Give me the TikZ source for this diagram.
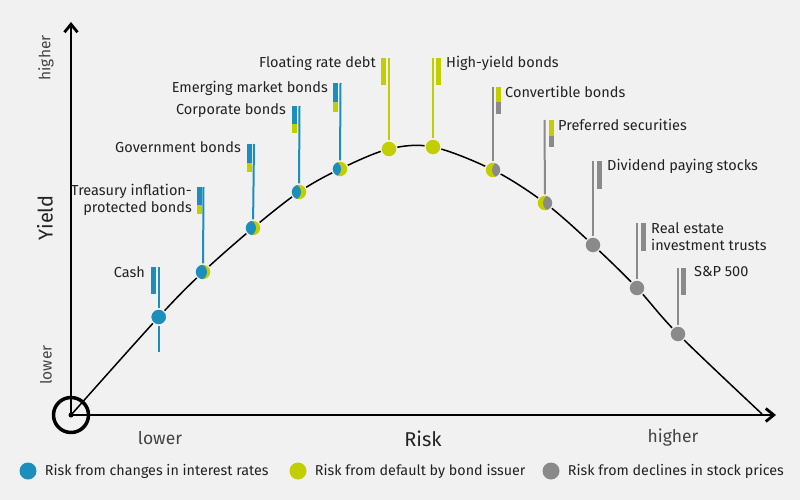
\documentclass[tikz,border=0pt]{standalone}
\usepackage{fontspec}
\setmainfont{Fira Sans}
\usetikzlibrary{arrows.meta}
\definecolor{rateblue}{HTML}{1B8EBC}
\definecolor{defgreen}{HTML}{C3CE00}
\definecolor{stockgray}{HTML}{8A8A8A}
\definecolor{bgcol}{HTML}{F1F1F1}
\definecolor{txt}{HTML}{222222}
\definecolor{axtxt}{HTML}{444444}
\begin{document}
\begin{tikzpicture}[x=1pt, y=-1pt, font=\fontsize{14.5}{17}\selectfont, text=txt,
		line join=round, >={Straight Barb[length=8pt,width=13pt]},
		dot/.style={circle, minimum size=16pt, inner sep=0pt, draw=bgcol, line width=1.2pt},
		mix/.style n args={3}{dot, fill=#1,
			path picture={\fill[#2] ([xshift=#3]path picture bounding box.center) circle (8pt);}},
		stem/.style={line width=2pt},
		bar/.style={line width=5pt},
		lbl/.style={inner sep=0pt},
		axis/.style={line width=2.8pt}]
	\fill[bgcol] (0,0) rectangle (800,500);
	\useasboundingbox (0,0) rectangle (800,500);
	% axes
	\node[circle, draw, line width=3.5pt, minimum size=35pt] (origin) at (71,415) {};
	\fill (origin.center) circle (2.5pt);
	\coordinate (ytip) at (71,22);
	\coordinate (xtip) at (776,415);
	\draw[axis,->] (origin.center) -- (ytip);
	\draw[axis,->] (origin.center) -- (xtip);
	\node[rotate=90, text=axtxt, font=\fontsize{15.5}{16}\selectfont] (yhigh) at (46,58) {higher};
	\node[rotate=90, font=\fontsize{20}{20}\selectfont] (ylab) at (45,218) {Yield};
	\node[rotate=90, text=axtxt, font=\fontsize{15.5}{16}\selectfont] (ylow) at (46,365) {lower};
	\node[text=axtxt, font=\fontsize{17.5}{18}\selectfont] (xlow) at (160,438) {lower};
	\node[font=\fontsize{20}{20}\selectfont] (xlab) at (423,439) {Risk};
	\node[text=axtxt, font=\fontsize{17.5}{18}\selectfont] (xhigh) at (673,438) {higher};
	% curve
	\draw[line width=1.5pt] plot[smooth, tension=.55] coordinates {(71,415) (158.7,317) (203,272)
		(253,228) (299,192) (340,169) (389,149) (433,147) (493,170) (545,203) (593,245) (637,288)
		(678,334) (762,414)};
	% points on the curve
	\node[dot, fill=rateblue] (cash) at (158.7,317) {};
	\node[mix={defgreen}{rateblue}{-4pt}] (tips) at (203,272) {};
	\node[mix={defgreen}{rateblue}{-5pt}] (gov) at (253,228) {};
	\node[mix={defgreen}{rateblue}{-6pt}] (corp) at (299,192) {};
	\node[mix={defgreen}{rateblue}{-7pt}] (emerg) at (340,169) {};
	\node[dot, fill=defgreen] (float) at (389,149) {};
	\node[dot, fill=defgreen] (hiyld) at (433,147) {};
	\node[mix={defgreen}{stockgray}{7pt}] (conv) at (493,170) {};
	\node[mix={defgreen}{stockgray}{6pt}] (pref) at (545,203) {};
	\node[dot, fill=stockgray] (divid) at (593,245) {};
	\node[dot, fill=stockgray] (reit) at (637,288) {};
	\node[dot, fill=stockgray] (snp) at (678,334) {};
	% stems
	\coordinate (cash top) at (158.7,267);
	\coordinate (cash bot) at (158.7,352);
	\draw[stem, rateblue] (cash top) -- (cash) (cash) -- (cash bot);
	\coordinate (tips top) at (203.5,187);
	\draw[stem, rateblue] (tips top) -- (tips);
	\coordinate (gov top) at (254,144);
	\draw[stem, rateblue] (gov top) -- (gov);
	\coordinate (corp top) at (299.5,106);
	\draw[stem, rateblue] (corp top) -- (corp);
	\coordinate (emerg top) at (340.5,83);
	\draw[stem, rateblue] (emerg top) -- (emerg);
	\coordinate (float top) at (389,58);
	\draw[stem, defgreen] (float top) -- (float);
	\coordinate (hiyld top) at (433,58);
	\draw[stem, defgreen] (hiyld top) -- (hiyld);
	\coordinate (conv top) at (493,87);
	\draw[stem, stockgray] (conv top) -- (conv);
	\coordinate (pref top) at (544.5,120);
	\draw[stem, stockgray] (pref top) -- (pref);
	\coordinate (divid top) at (593,161);
	\draw[stem, stockgray] (divid top) -- (divid);
	\coordinate (reit top) at (637,223);
	\draw[stem, stockgray] (reit top) -- (reit);
	\coordinate (snp top) at (678,268);
	\draw[stem, stockgray] (snp top) -- (snp);
	% bars
	\draw[bar, rateblue] (153,267) -- (153,294);
	\draw[bar, rateblue] (199,187) -- (199,205);
	\draw[bar, defgreen] (199,205) -- (199,214);
	\draw[bar, rateblue] (249.5,144) -- (249.5,163);
	\draw[bar, defgreen] (249.5,163) -- (249.5,172);
	\draw[bar, rateblue] (294.5,106) -- (294.5,124);
	\draw[bar, defgreen] (294.5,124) -- (294.5,133);
	\draw[bar, rateblue] (335.5,83) -- (335.5,102);
	\draw[bar, defgreen] (335.5,102) -- (335.5,112);
	\draw[bar, defgreen] (383.5,58) -- (383.5,85);
	\draw[bar, defgreen] (438.5,58) -- (438.5,85);
	\draw[bar, defgreen] (498.5,87) -- (498.5,102);
	\draw[bar, stockgray] (498.5,102) -- (498.5,114);
	\draw[bar, defgreen] (551,120) -- (551,136);
	\draw[bar, stockgray] (551,136) -- (551,147);
	\draw[bar, stockgray] (599.5,161) -- (599.5,189);
	\draw[bar, stockgray] (643.5,223) -- (643.5,251);
	\draw[bar, stockgray] (683.5,268) -- (683.5,295);
	% labels
	\node[lbl, anchor=east] (cash lbl) at (145,272) {Cash};
	\node[lbl, anchor=east, align=right] (tips lbl) at (192,200) {Treasury inflation-\\protected bonds};
	\node[lbl, anchor=east] (gov lbl) at (241,147) {Government bonds};
	\node[lbl, anchor=east] (corp lbl) at (286,111) {Corporate bonds};
	\node[lbl, anchor=east] (emerg lbl) at (328,88) {Emerging market bonds};
	\node[lbl, anchor=east] (float lbl) at (376,63) {Floating rate debt};
	\node[lbl, anchor=west] (hiyld lbl) at (446,63) {High-yield bonds};
	\node[lbl, anchor=west] (conv lbl) at (505,92) {Convertible bonds};
	\node[lbl, anchor=west] (pref lbl) at (558,125) {Preferred securities};
	\node[lbl, anchor=west] (divid lbl) at (607,166) {Dividend paying stocks};
	\node[lbl, anchor=west, align=left] (reit lbl) at (651,237) {Real estate\\investment trusts};
	\node[lbl, anchor=west] (snp lbl) at (694,272) {S\&P 500};
	% legend
	\foreach \c/\x/\t [count=\i] in {rateblue/28/Risk from changes in interest rates,
		defgreen/298/Risk from default by bond issuer,
		stockgray/551/Risk from declines in stock prices}
	{
		\node[circle, fill=\c, minimum size=17pt, inner sep=0pt] (key\i) at (\x,471) {};
		\node[lbl, anchor=west, font=\fontsize{14.3}{15}\selectfont] (key\i lbl) at ([xshift=8pt]key\i.east) {\t};
	}
\end{tikzpicture}
\end{document}
